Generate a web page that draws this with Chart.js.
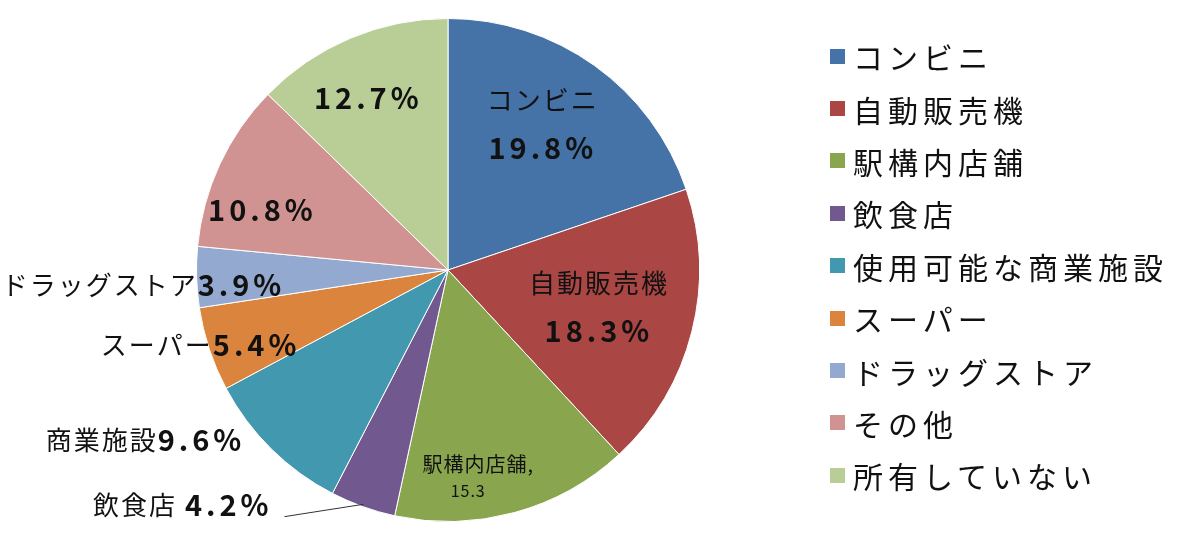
<!DOCTYPE html>
<html><head><meta charset="utf-8">
<script src="https://cdn.jsdelivr.net/npm/chart.js@4"></script>
<style>
body{margin:0;background:#fff;font-family:"Noto Sans CJK JP",sans-serif}
#wrap{position:relative;width:1200px;height:535px}
#legend{position:absolute;left:830px;top:30px}
.li{display:flex;align-items:center;height:52.4px;font-size:30px;letter-spacing:5px;color:#111}
.sw{width:15px;height:15px;margin-right:8px}
</style></head><body>
<div id="wrap"><canvas id="c" width="1200" height="535"></canvas><div id="legend"></div></div>
<script>
const categories=["コンビニ","自動販売機","駅構内店舗","飲食店","使用可能な商業施設","スーパー","ドラッグストア","その他","所有していない"];
const values=[19.8,18.3,15.3,4.2,9.6,5.4,3.9,10.8,12.7];
const labelNames=["コンビニ","自動販売機","駅構内店舗,","飲食店 ","商業施設","スーパー","ドラッグストア","",""];
const labelValues=["19.8%","18.3%","15.3","4.2%","9.6%","5.4%","3.9%","10.8%","12.7%"];
const colors=["#4572A7","#AA4643","#89A54E","#71588F","#4198AF","#DB843D","#93A9CF","#D19392","#B9CD96"];
const layout=[[0.377,-0.58,'stack'],[0.60,0.147,'stack'],[0.12,0.825,'small'],[-0.698,0.933,'right'],[-0.806,0.675,'right'],[-0.587,0.298,'right'],[-0.647,0.06,'right'],[-0.738,-0.238,'stack'],[-0.317,-0.683,'stack']];
const lg=document.getElementById('legend');
categories.forEach((c,i)=>{lg.innerHTML+=`<div class="li"><div class="sw" style="background:${colors[i]}"></div>${c}</div>`});
const F='"Noto Sans CJK JP", sans-serif';
const labelPlugin={id:'lbl',afterDatasetsDraw(chart){
 const ctx=chart.ctx;const meta=chart.getDatasetMeta(0);const a0=meta.data[0];
 const cx=a0.x,cy=a0.y,R=a0.outerRadius;
 ctx.save();ctx.fillStyle='#111';ctx.textBaseline='middle';
 const bold='bold 29px '+F,norm='26px '+F;
 const setB=()=>{ctx.font=bold;ctx.letterSpacing='4px';};
 const setN=()=>{ctx.font=norm;ctx.letterSpacing='2px';};
 layout.forEach(([ux,uy,mode],i)=>{
  const x=cx+ux*R,y=cy+uy*R;
  const nm=labelNames[i],v=labelValues[i];
  if(mode==='stack'){
   ctx.textAlign='center';
   if(nm){setN();ctx.fillText(nm,x,y-24);setB();ctx.fillText(v,x,y+24);}
   else{setB();ctx.fillText(v,x,y);}
  }else if(mode==='small'){
   ctx.textAlign='center';ctx.letterSpacing='1px';ctx.font='20px '+F;ctx.fillText(nm,x,y-13);ctx.font='16px '+F;ctx.fillText(v,x-10,y+13);
  }else{
   ctx.textAlign='right';setB();ctx.fillText(v,x,y);const w=ctx.measureText(v).width;
   setN();ctx.fillText(nm,x-w,y);
  }
 });
 const arc=meta.data[3];const mid=(arc.startAngle+arc.endAngle)/2;
 const px=cx+Math.cos(mid)*R*0.99,py=cy+Math.sin(mid)*R*0.99;
 ctx.strokeStyle='#333';ctx.lineWidth=1;ctx.beginPath();
 ctx.moveTo(cx+layout[3][0]*R+12,cy+layout[3][1]*R+12);ctx.lineTo(px,py);ctx.stroke();
 ctx.restore();
}};
new Chart(document.getElementById('c'),{type:'pie',
 data:{labels:categories,datasets:[{data:values,backgroundColor:colors,borderColor:'#fff',borderWidth:1}]},
 options:{responsive:false,animation:false,layout:{padding:{left:196,right:500,top:18,bottom:13}},
  plugins:{legend:{display:false},tooltip:{enabled:false}}},
 plugins:[labelPlugin]});
</script></body></html>
